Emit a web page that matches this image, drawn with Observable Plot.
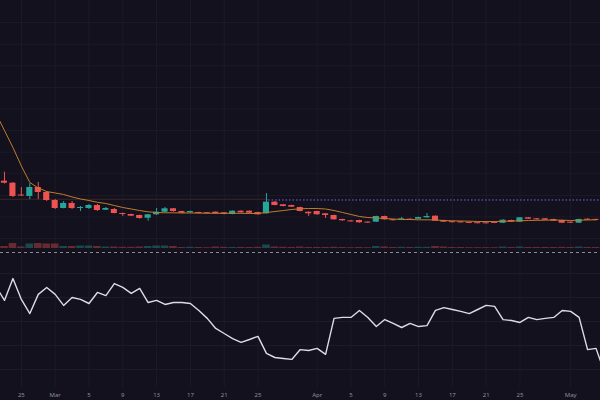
<!DOCTYPE html>
<html><head><meta charset="utf-8">
<script src="https://cdn.jsdelivr.net/npm/d3@7"></script>
<script src="https://cdn.jsdelivr.net/npm/@observablehq/plot@0.6"></script>
<style>
html,body{margin:0;padding:0;background:#13111d;}
#chart{position:relative;width:600px;height:400px;overflow:hidden;background:#13111d;}
#chart svg{position:absolute;left:0;}
</style></head><body><div id="chart"></div>
<script>
// ---- data ----
const firstDate = "2023-02-23"; // one candle per day from here
const openValues = [
 0.4829,0.4782,0.4509,0.4475,0.4683,0.4567,0.4382,0.4197,0.4313,0.4197,
 0.4197,0.4266,0.4157,0.4174,0.4081,0.4058,0.4035,0.3972,0.4051,0.4111,
 0.4190,0.4127,0.4097,0.4104,0.4099,0.4111,0.4097,0.4058,0.4134,0.4134,
 0.4104,0.4074,0.4343,0.4282,0.4266,0.4220,0.4111,0.4127,0.4074,0.4035,
 0.3942,0.3910,0.3919,0.3882,0.3880,0.4012,0.3937,0.3926,0.3949,0.3949,
 0.3981,0.4019,0.3919,0.3891,0.3887,0.3875,0.3868,0.3866,0.3875,0.3856,
 0.3919,0.3880,0.3981,0.3958,0.3958,0.3942,0.3919,0.3880,0.3856,0.3949,
 0.3944];
const highValues = [
 0.5037,0.4799,0.4683,0.4775,0.4799,0.4590,0.4405,0.4359,0.4359,0.4243,
 0.4289,0.4289,0.4220,0.4197,0.4088,0.4065,0.4042,0.4058,0.4197,0.4220,
 0.4197,0.4134,0.4134,0.4111,0.4104,0.4120,0.4104,0.4143,0.4143,0.4141,
 0.4111,0.4544,0.4359,0.4289,0.4273,0.4227,0.4118,0.4134,0.4081,0.4042,
 0.3949,0.3915,0.3926,0.3887,0.4019,0.4019,0.3942,0.3988,0.3958,0.3995,
 0.4081,0.4026,0.3926,0.3896,0.3892,0.3880,0.3873,0.3870,0.3880,0.3935,
 0.3926,0.3988,0.3988,0.3965,0.3965,0.3949,0.3926,0.3887,0.3949,0.3958,
 0.3949];
const lowValues = [
 0.4764,0.4451,0.4475,0.4405,0.4405,0.4359,0.4174,0.4190,0.4174,0.4127,
 0.4174,0.4127,0.4150,0.4074,0.4012,0.4012,0.3949,0.3903,0.4035,0.4104,
 0.4111,0.4074,0.4088,0.4074,0.4070,0.4065,0.4051,0.4051,0.4088,0.4081,
 0.4042,0.4065,0.4259,0.4236,0.4220,0.4120,0.4012,0.4042,0.3965,0.3926,
 0.3905,0.3882,0.3856,0.3852,0.3873,0.3926,0.3907,0.3919,0.3919,0.3942,
 0.3972,0.3896,0.3873,0.3862,0.3858,0.3846,0.3840,0.3838,0.3846,0.3850,
 0.3873,0.3873,0.3942,0.3926,0.3919,0.3896,0.3850,0.3850,0.3850,0.3919,
 0.3915];
const closeValues = [
 0.4782,0.4475,0.4486,0.4683,0.4567,0.4382,0.4197,0.4313,0.4197,0.4220,
 0.4266,0.4150,0.4197,0.4081,0.4058,0.4019,0.3965,0.4051,0.4111,0.4190,
 0.4127,0.4088,0.4127,0.4081,0.4076,0.4074,0.4058,0.4134,0.4097,0.4088,
 0.4051,0.4343,0.4266,0.4243,0.4227,0.4127,0.4074,0.4051,0.4035,0.3935,
 0.3912,0.3887,0.3866,0.3859,0.4012,0.3935,0.3914,0.3958,0.3926,0.3988,
 0.4012,0.3903,0.3880,0.3868,0.3864,0.3852,0.3845,0.3843,0.3852,0.3926,
 0.3880,0.3981,0.3949,0.3935,0.3926,0.3903,0.3856,0.3856,0.3942,0.3926,
 0.3921];
const volumeValues = [
 2.0,5.0,1.5,4.5,5.0,4.5,4.5,2.0,2.0,2.5,
 2.5,2.0,1.5,1.5,1.2,1.2,1.5,2.0,2.5,2.5,
 2.0,1.0,1.2,1.0,0.8,1.5,1.2,1.0,1.0,1.0,
 1.2,3.5,1.5,1.2,1.0,1.5,1.0,1.0,1.0,1.2,
 1.0,0.8,1.0,0.8,2.0,1.5,1.0,1.2,1.0,1.2,
 1.2,2.0,1.5,1.0,1.0,0.8,0.8,0.8,0.8,1.5,
 1.0,1.5,1.0,1.0,1.0,1.0,1.2,1.0,1.5,1.0,
 1.0];
// moving average, starting one day before firstDate
const maValues = [
 0.6396,0.6002,0.5609,0.5180,0.4799,0.4671,0.4590,0.4556,0.4521,0.4463,
 0.4417,0.4382,0.4340,0.4313,0.4266,0.4220,0.4185,0.4150,0.4120,0.4104,
 0.4097,0.4097,0.4093,0.4093,0.4090,0.4088,0.4086,0.4086,0.4086,0.4086,
 0.4081,0.4081,0.4104,0.4127,0.4150,0.4174,0.4190,0.4197,0.4197,0.4185,
 0.4150,0.4104,0.4058,0.4012,0.3988,0.3977,0.3965,0.3954,0.3942,0.3942,
 0.3935,0.3935,0.3931,0.3919,0.3912,0.3907,0.3903,0.3896,0.3896,0.3896,
 0.3900,0.3907,0.3912,0.3919,0.3924,0.3926,0.3931,0.3926,0.3919,0.3926,
 0.3931,0.3935];
// oscillator, starting one day before firstDate
const oscValues = [
 64.6,58.8,67.9,59.2,53.3,61.3,64.2,61.3,56.7,60.0,
 59.2,57.5,62.1,60.8,65.8,64.2,61.7,63.8,57.9,58.8,
 57.1,57.9,57.9,57.5,54.6,51.3,47.1,45.0,42.9,41.3,
 42.5,43.8,36.7,35.0,34.6,34.2,38.3,37.9,38.8,36.3,
 51.3,51.7,51.7,54.6,51.7,47.9,50.8,49.2,47.5,49.2,
 47.9,48.3,54.6,55.8,55.0,54.2,53.3,55.0,56.7,56.3,
 50.8,50.4,49.6,51.7,50.8,51.3,51.7,54.6,54.2,51.7,
 38.3,38.8,28.8];
const tickDateStrings = ["2023-02-25","2023-03-01","2023-03-05","2023-03-09","2023-03-13","2023-03-17","2023-03-21","2023-03-25",
 "2023-04-01","2023-04-05","2023-04-09","2023-04-13","2023-04-17","2023-04-21","2023-04-25","2023-05-01"];
const tickLabels = ["25","Mar","5","9","13","17","21","25","Apr","5","9","13","17","21","25","May"];
const refLevel = 0.4410;      // faint level line
const markerLevel = 0.4394;   // dotted level line
const markerStartDate = "2023-03-26T06:00Z";
const priceGrid = [0.35,0.40,0.45,0.50,0.55,0.60,0.65,0.70,0.75,0.80,0.85];
const oscGrid = [30,40,50,60,70];

// ---- styling ----
const BG = "#13111d", GRID = "#1d1a29", RED = "#ef5350", GREEN = "#26a69a";
const DAY = 864e5;
const t0 = +new Date(firstDate);
const dayAt = k => new Date(t0 + k * DAY);
const xDomain = [new Date(t0 - 0.47 * DAY), new Date(t0 + 70.53 * DAY)];
const tickDates = tickDateStrings.map(s => new Date(s));
const labelFor = new Map(tickDates.map((d, i) => [+d, tickLabels[i]]));
const markerStart = new Date(markerStartDate);

const candles = openValues.map((o, i) => ({
  date: dayAt(i), open: o, high: highValues[i], low: lowValues[i], close: closeValues[i],
  volume: volumeValues[i], color: closeValues[i] >= o ? GREEN : RED
}));
const maData = maValues.map((v, i) => ({date: dayAt(i - 1), ma: v}));
const oscData = oscValues.map((v, i) => ({date: dayAt(i - 1), osc: v}));

const baseStyle = {background: "transparent", overflow: "hidden", fontFamily: "'Noto Sans', sans-serif"};
const chart = document.getElementById("chart");

// price pane
const pricePlot = Plot.plot({
  width: 600, height: 252, margin: 0,
  style: baseStyle,
  x: {type: "utc", domain: xDomain, axis: null},
  y: {domain: [0.31782, 0.90116], axis: null},
  marks: [
    Plot.ruleY(priceGrid, {stroke: GRID}),
    Plot.ruleX(tickDates, {stroke: GRID}),
    Plot.ruleY([refLevel], {x1: () => xDomain[0], x2: () => markerStart, stroke: "#3b2528"}),
    Plot.ruleY([markerLevel], {x1: () => markerStart, x2: () => xDomain[1], stroke: "#7565e6", strokeDasharray: "1.5,2"}),
    Plot.ruleX(candles, {x: "date", y1: "low", y2: "high", stroke: "color"}),
    Plot.rect(candles, {x1: d => new Date(+d.date - 0.36 * DAY), x2: d => new Date(+d.date + 0.36 * DAY), y1: "open", y2: "close", fill: "color"}),
    Plot.line(maData, {x: "date", y: "ma", stroke: "#c27b2c", strokeWidth: 1, clip: true})
  ]
});
pricePlot.style.top = "0px";
chart.appendChild(pricePlot);

// volume strip
const volPlot = Plot.plot({
  width: 600, height: 20, margin: 0,
  style: baseStyle,
  x: {type: "utc", domain: xDomain, axis: null},
  y: {domain: [0, 20], axis: null},
  marks: [
    Plot.rect(candles, {x1: d => new Date(+d.date - 0.45 * DAY), x2: d => new Date(+d.date + 0.45 * DAY), y1: () => 0, y2: "volume", fill: "color", fillOpacity: 0.38})
  ]
});
volPlot.style.top = "228px";
chart.appendChild(volPlot);

// oscillator pane
const oscDomain = [22.5, 78.75];
const oscPlot = Plot.plot({
  width: 600, height: 152, marginTop: 4, marginBottom: 13, marginLeft: 0, marginRight: 0,
  style: {...baseStyle, fontSize: "6px", color: "#8e8d9c"},
  x: {type: "utc", domain: xDomain, ticks: tickDates, tickFormat: d => labelFor.get(+d), tickSize: 0, tickPadding: 5, label: null},
  y: {domain: oscDomain, axis: null},
  marks: [
    Plot.ruleY(oscGrid, {stroke: GRID}),
    Plot.ruleX(tickDates, {stroke: GRID}),
    Plot.ruleY([oscDomain[1]], {stroke: "#8a8998", strokeDasharray: "3,3"}),
    Plot.line(oscData, {x: "date", y: "osc", stroke: "#dcdce6", strokeWidth: 1.4, clip: true})
  ]
});
oscPlot.style.top = "248px";
chart.appendChild(oscPlot);
</script></body></html>
